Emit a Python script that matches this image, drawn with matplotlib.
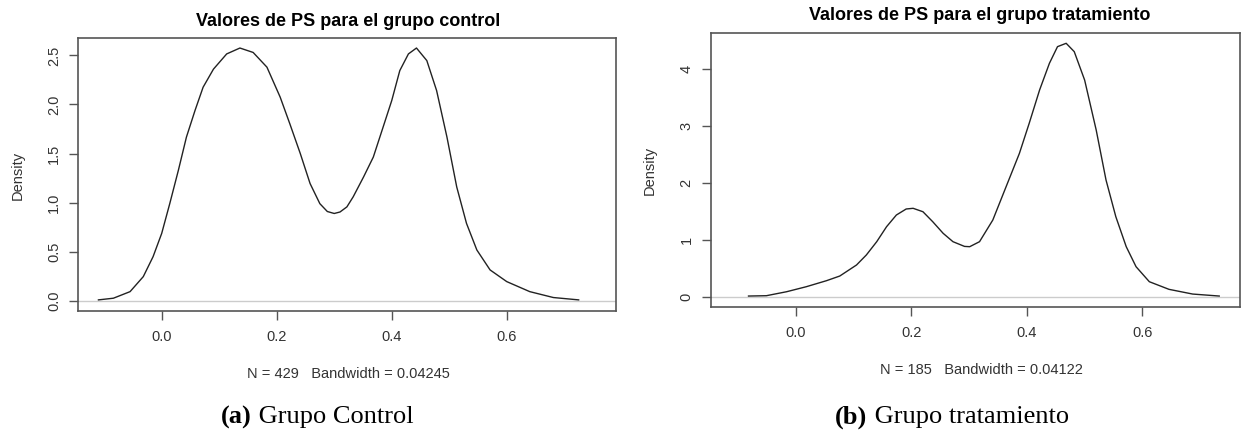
import numpy as np
import matplotlib.pyplot as plt

plt.rcParams['font.family'] = ['Liberation Sans', 'DejaVu Sans']

# grupo control
ctrl_x = [-0.110, -0.084, -0.055, -0.032, -0.015, 0.000, 0.014, 0.029, 0.043, 0.058, 0.072,
          0.090, 0.113, 0.136, 0.159, 0.183, 0.206, 0.223, 0.241, 0.258, 0.275, 0.288, 0.300,
          0.310, 0.322, 0.333, 0.351, 0.368, 0.385, 0.400, 0.414, 0.429, 0.443, 0.461, 0.478,
          0.496, 0.513, 0.530, 0.548, 0.571, 0.600, 0.640, 0.681, 0.725]
ctrl_y = [0.010, 0.027, 0.094, 0.247, 0.450, 0.687, 0.990, 1.330, 1.668, 1.940, 2.176,
          2.360, 2.515, 2.575, 2.530, 2.380, 2.075, 1.800, 1.500, 1.195, 0.990, 0.910, 0.890,
          0.905, 0.957, 1.060, 1.262, 1.465, 1.770, 2.040, 2.345, 2.515, 2.575, 2.447, 2.142,
          1.668, 1.160, 0.789, 0.518, 0.315, 0.196, 0.094, 0.034, 0.010]

# grupo tratamiento
trat_x = [-0.082, -0.051, -0.016, 0.018, 0.053, 0.076, 0.105, 0.122, 0.140, 0.157, 0.174,
          0.191, 0.203, 0.220, 0.237, 0.255, 0.272, 0.292, 0.301, 0.318, 0.341, 0.364, 0.387,
          0.404, 0.422, 0.439, 0.453, 0.468, 0.482, 0.500, 0.520, 0.537, 0.554, 0.572, 0.589,
          0.612, 0.646, 0.687, 0.733]
trat_y = [0.012, 0.018, 0.088, 0.176, 0.282, 0.364, 0.558, 0.734, 0.968, 1.231, 1.437,
          1.543, 1.555, 1.495, 1.319, 1.115, 0.968, 0.885, 0.880, 0.968, 1.349, 1.935, 2.520,
          3.050, 3.636, 4.105, 4.398, 4.457, 4.310, 3.810, 2.932, 2.053, 1.407, 0.880, 0.528,
          0.264, 0.130, 0.047, 0.012]

titles = ['Valores de PS para el grupo control', 'Valores de PS para el grupo tratamiento']
subs = ['N = 429   Bandwidth = 0.04245', 'N = 185   Bandwidth = 0.04122']
caps = [('(a)', ' Grupo Control'), ('(b)', ' Grupo tratamiento')]

fig = plt.figure(figsize=(12.41, 4.33), dpi=100)
ax1 = fig.add_axes([0.0631, 0.2818, 0.4333, 0.6311])
ax2 = fig.add_axes([0.5729, 0.2903, 0.4263, 0.6328])

box = '#555555'
for ax, xs, ys in [(ax1, ctrl_x, ctrl_y), (ax2, trat_x, trat_y)]:
    ax.axhline(0, color='#cccccc', lw=1.0, zorder=1)
    ax.plot(xs, ys, color='#222222', lw=1.0, zorder=2)
    ax.set_xticks([0.0, 0.2, 0.4, 0.6])
    ax.set_xticklabels(['0.0', '0.2', '0.4', '0.6'])
    for s in ax.spines.values():
        s.set_color(box)
        s.set_linewidth(1.2)
    ax.tick_params(direction='out', length=6.5, width=1.0, color=box,
                   labelsize=10.5, labelcolor='#333333')
    ax.tick_params(axis='x', pad=7)
    ax.tick_params(axis='y', pad=6)

ax1.set_xlim(-0.145, 0.79)
ax1.set_ylim(-0.103, 2.68)
ax1.set_yticks([0.0, 0.5, 1.0, 1.5, 2.0, 2.5])
ax1.set_yticklabels(['0.0', '0.5', '1.0', '1.5', '2.0', '2.5'], rotation=90, va='center')

ax2.set_xlim(-0.147, 0.769)
ax2.set_ylim(-0.186, 4.633)
ax2.set_yticks([0, 1, 2, 3, 4])
ax2.set_yticklabels(['0', '1', '2', '3', '4'], rotation=90, va='center')

W, H = 1241, 433
def fx(px):
    return px / W
def fy(py):
    return 1 - py / H

fig.text(fx(348), fy(21), titles[0], ha='center', va='center', fontsize=13, fontweight='bold')
fig.text(fx(980), fy(15), titles[1], ha='center', va='center', fontsize=13, fontweight='bold')
fig.text(fx(348), fy(374), subs[0], ha='center', va='center', fontsize=10.5, color='#333333')
fig.text(fx(981), fy(370), subs[1], ha='center', va='center', fontsize=10.5, color='#333333')
fig.text(fx(18), fy(175), 'Density', ha='center', va='center', rotation=90, fontsize=10.5, color='#333333')
fig.text(fx(650), fy(170), 'Density', ha='center', va='center', rotation=90, fontsize=10.5, color='#333333')

# captions below each panel, serif with bold letter
for (b, rest), cx in zip(caps, [317, 952]):
    fig.text(fx(cx), fy(417), b, ha='right', va='center', fontsize=19,
             fontweight='bold', family='Liberation Serif')
    fig.text(fx(cx), fy(417), rest, ha='left', va='center', fontsize=19,
             family='Liberation Serif')

# shift caption pieces so the pair is centred
fig.canvas.draw()
r = fig.canvas.get_renderer()
texts = fig.texts[-4:]
for i in range(2):
    a, b = texts[2 * i], texts[2 * i + 1]
    wa = a.get_window_extent(r).width / W
    wb = b.get_window_extent(r).width / W
    cx = a.get_position()[0]
    start = cx - (wa + wb) / 2
    a.set_position((start + wa, a.get_position()[1]))
    b.set_position((start + wa, b.get_position()[1]))

fig.savefig('out.png', dpi=100)
